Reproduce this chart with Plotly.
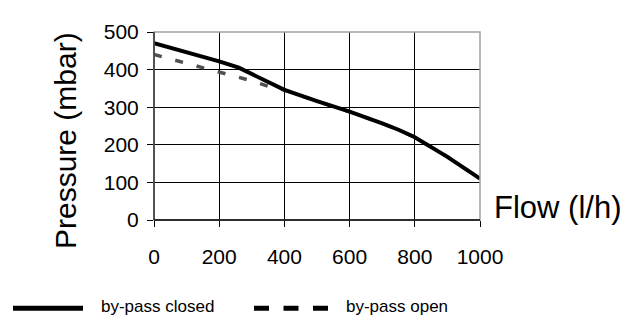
import plotly.graph_objects as go

flow_closed = [0, 100, 200, 260, 400, 500, 600, 700, 750, 800, 850, 900, 1000]
pressure_closed = [470, 447, 422, 405, 346, 316, 288, 257, 240, 220, 195, 168, 110]

flow_open = [0, 100, 200, 300, 360, 400, 500, 600, 700, 750, 800, 850, 900, 1000]
pressure_open = [440, 417, 393, 370, 353, 346, 316, 288, 257, 240, 220, 195, 168, 110]

x_ticks = [0, 200, 400, 600, 800, 1000]
y_ticks = [0, 100, 200, 300, 400, 500]

legend_names = ["by-pass closed", "by-pass open"]
x_title = "Flow (l/h)"
y_title = "Pressure (mbar)"

FONT = "Arial, Liberation Sans, sans-serif"

fig = go.Figure()
fig.add_trace(go.Scatter(x=flow_open, y=pressure_open, mode="lines",
                         line=dict(color="#505050", width=3.5, dash="8px,14px"),
                         name=legend_names[1], showlegend=False))
fig.add_trace(go.Scatter(x=flow_closed, y=pressure_closed, mode="lines",
                         line=dict(color="black", width=4),
                         name=legend_names[0], showlegend=False))

OFF = 8  # page body margin
PAGE_W, PAGE_H = 636, 325
W, H = PAGE_W - OFF, PAGE_H - OFF
# plot area in page pixels: x 154..480, y 20..220
L = 154 - OFF
T = 20 - OFF
R = W - (480 - OFF)
B = H - (220 - OFF)
pw, ph = W - L - R, H - T - B


def px(xp):
    return (xp - OFF - L) / pw


def py(yp):
    return (H - B - (yp - OFF)) / ph


fig.update_layout(
    width=W, height=H,
    margin=dict(l=L, r=R, t=T, b=B),
    paper_bgcolor="white", plot_bgcolor="white",
    font=dict(family=FONT, color="black"),
    xaxis=dict(range=[0, 1000], tickvals=x_ticks, ticks="outside", ticklen=6,
               tickcolor="black", showgrid=True, gridcolor="black", gridwidth=1,
               zeroline=False, showline=False, tickfont=dict(size=21, family=FONT),
               ticklabelstandoff=12),
    yaxis=dict(range=[0, 500], tickvals=y_ticks, ticks="outside", ticklen=6,
               tickcolor="black", showgrid=True, gridcolor="black", gridwidth=1,
               zeroline=False, showline=False, tickfont=dict(size=21, family=FONT),
               ticklabelstandoff=4),
    showlegend=False,
)

# plot frame: grey top/right, black left/bottom
fig.add_shape(type="rect", xref="x domain", yref="y domain", x0=0, x1=1, y0=0, y1=1,
              line=dict(color="#a0a0a0", width=1.5), layer="above")
fig.add_shape(type="line", xref="x domain", yref="y domain", x0=0, x1=0, y0=0, y1=1,
              line=dict(color="#303030", width=1.5), layer="above")
fig.add_shape(type="line", xref="x domain", yref="y domain", x0=0, x1=1, y0=0, y1=0,
              line=dict(color="black", width=1.5), layer="above")

# axis titles
fig.add_annotation(text=y_title, xref="paper", yref="paper", x=px(65), y=py(136),
                   textangle=-90, showarrow=False, xanchor="center", yanchor="middle",
                   font=dict(size=30, family=FONT))
fig.add_annotation(text=x_title, xref="paper", yref="paper", x=px(492), y=py(207),
                   showarrow=False, xanchor="left", yanchor="middle",
                   font=dict(size=31, family=FONT))

# legend
ly = py(314)
fig.add_shape(type="line", xref="paper", yref="paper", x0=px(13), x1=px(83), y0=ly, y1=ly,
              line=dict(color="black", width=5))
fig.add_annotation(text=legend_names[0], xref="paper", yref="paper", x=px(99), y=py(312),
                   showarrow=False, xanchor="left", yanchor="middle",
                   font=dict(size=17, family=FONT))
fig.add_shape(type="line", xref="paper", yref="paper", x0=px(254), x1=px(328), y0=ly, y1=ly,
              line=dict(color="black", width=5, dash="15px,14.5px"))
fig.add_annotation(text=legend_names[1], xref="paper", yref="paper", x=px(344), y=py(312),
                   showarrow=False, xanchor="left", yanchor="middle",
                   font=dict(size=17, family=FONT))

fig.write_html("out.html")
